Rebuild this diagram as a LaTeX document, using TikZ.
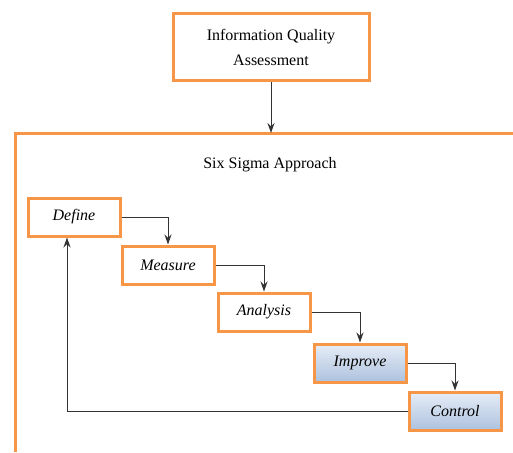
\documentclass[tikz,border=0pt]{standalone}
\usepackage{fontspec}
\setmainfont{Liberation Serif}
\usetikzlibrary{arrows.meta}
\definecolor{orangeB}{HTML}{F79646}
\definecolor{blueT}{HTML}{E6EDF7}
\definecolor{blueB}{HTML}{ADC2DE}
\definecolor{lineG}{HTML}{333333}

\begin{document}
\begin{tikzpicture}[x=1pt,y=-1pt,
  stepbox/.style={draw=orangeB,line width=3pt,minimum width=92pt,minimum height=38pt,
    inner sep=0pt,font=\fontsize{16}{18}\selectfont\itshape},
  shadedbox/.style={stepbox,top color=blueT,bottom color=blueB},
  conn/.style={draw=lineG,line width=1pt,-{Stealth[length=10pt,width=7pt]}}]
  \useasboundingbox (0,0) rectangle (513,452);

  \node[draw=orangeB,line width=3pt,minimum width=196pt,minimum height=67pt,inner sep=0pt,
    align=center,font=\fontsize{16}{25}\selectfont] (assess) at (271,47)
    {Information Quality\\Assessment};

  % outer frame of the approach
  \draw[orangeB,line width=3pt] (15,452) -- (15,133) -- (513,133);
  \coordinate (frametop) at (271,133);
  \node[font=\fontsize{16}{18}\selectfont] (title) at (270,165) {Six Sigma Approach};

  \node[stepbox] (define) at (74,217) {Define};
  \node[stepbox] (measure) at (168,265) {Measure};
  \node[stepbox] (analysis) at (264,312) {Analysis};
  \node[shadedbox] (improve) at (360,363) {Improve};
  \node[shadedbox] (control) at (455,411) {Control};

  \draw[conn] (assess.south) -- (frametop);
  \draw[conn] (define.east) -| (measure.north);
  \draw[conn] (measure.east) -| (analysis.north);
  \draw[conn] (analysis.east) -| (improve.north);
  \draw[conn] (improve.east) -| (control.north);
  \draw[conn] (control.west) -| ([xshift=-7pt]define.south);
\end{tikzpicture}
\end{document}
